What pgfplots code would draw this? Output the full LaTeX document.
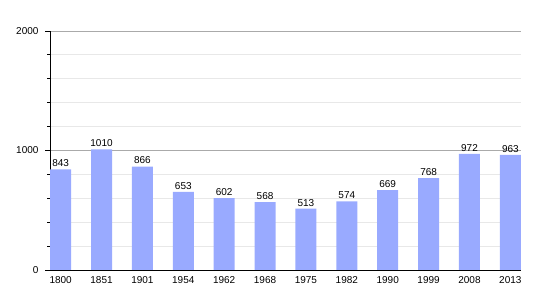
\documentclass[border=0pt]{standalone}
\usepackage{pgfplots}
\pgfplotsset{compat=1.18}
\usepackage{fontspec}
\setmainfont{Liberation Sans}
\definecolor{barblue}{RGB}{153,170,255}
\definecolor{minorgrid}{RGB}{232,232,232}
\definecolor{majorgrid}{RGB}{170,170,170}
\begin{document}
\begin{tikzpicture}[x=1pt,y=1pt]
\begin{axis}[
  scale only axis,
  width=471pt, height=239pt,
  xmin=-0.26, xmax=11.26,
  ymin=0, ymax=2000,
  axis x line*=bottom,
  axis y line*=left,
  axis line style={black, line width=0.8pt},
  xtick={0,...,11},
  xticklabels={1800,1851,1901,1954,1962,1968,1975,1982,1990,1999,2008,2013},
  x tick style={draw=none},
  xticklabel style={yshift=2pt},
  ytick={0,1000,2000},
  minor ytick={200,400,600,800,1200,1400,1600,1800},
  ymajorgrids, yminorgrids,
  major grid style={majorgrid, line width=0.8pt},
  minor grid style={minorgrid, line width=0.8pt},
  tick align=outside,
  major tick length=5pt,
  minor tick length=2.5pt,
  y tick style={black, line width=0.8pt},
  tick label style={font=\fontsize{10}{12}\selectfont},
  /pgf/number format/assume math mode=true,
  /pgf/number format/1000 sep={},
  yticklabel style={xshift=-3pt},
  axis on top=false,
  clip=false,
]
\addplot[ybar, bar width=21pt, fill=barblue, draw=none,
  nodes near coords,
  every node near coord/.append style={font=\fontsize{10}{12}\selectfont, black, yshift=-1pt},
  /pgf/number format/1000 sep={}]
coordinates {(0,843) (1,1010) (2,866) (3,653) (4,602) (5,568) (6,513) (7,574) (8,669) (9,768) (10,972) (11,963)};
\end{axis}
\pgfresetboundingbox
\path ([xshift=-50pt,yshift=-30pt]current axis.south west) rectangle ([xshift=29pt,yshift=31pt]current axis.north east);
\end{tikzpicture}
\end{document}
